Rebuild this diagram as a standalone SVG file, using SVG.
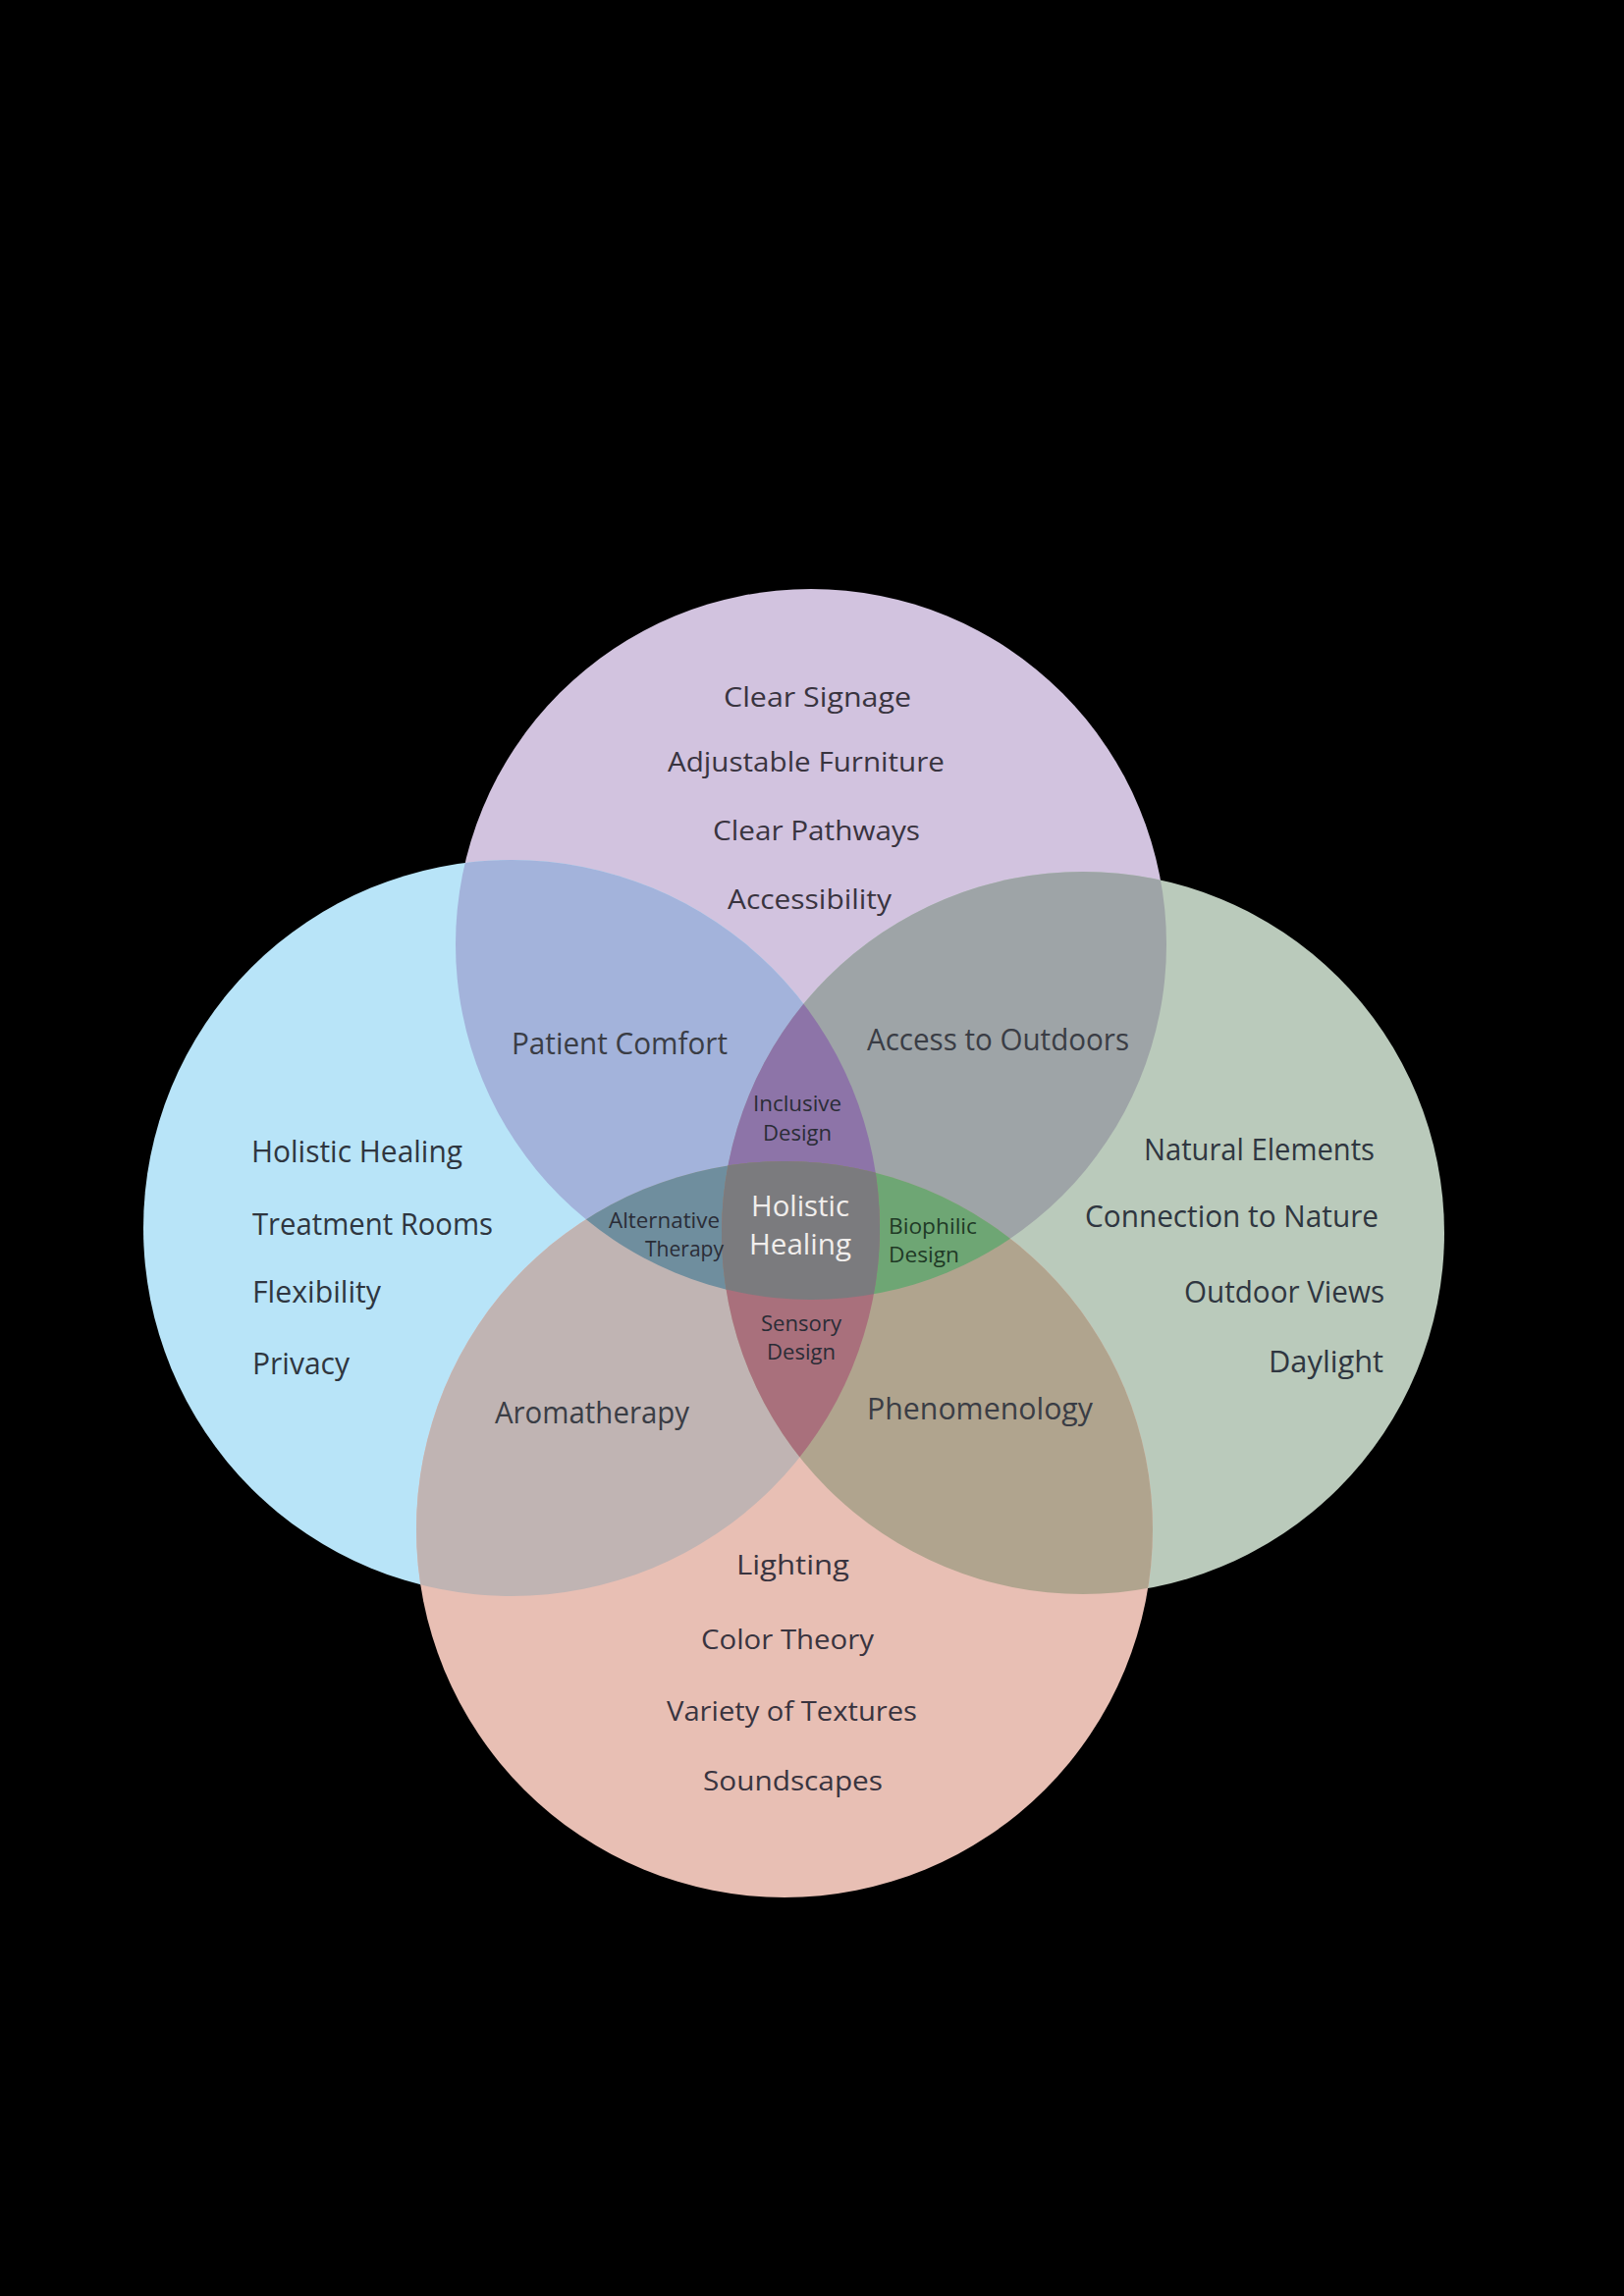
<svg xmlns="http://www.w3.org/2000/svg" xmlns:xlink="http://www.w3.org/1999/xlink" width="1654" height="2339" viewBox="0 0 1654 2339">
<style>
text{font-family:"Open Sans","Noto Sans","Liberation Sans",sans-serif;}
.t{font-size:27px;fill:#39343f;}
.s{font-size:31px;fill:#2f3640;}
.m{font-size:31px;fill:#3a3d45;}
.c{font-size:21px;fill:#2a2c36;}
.w{font-size:29px;fill:#f1eeec;}
</style>
<defs>
<clipPath id="clipT"><circle cx="826" cy="962" r="362"/></clipPath>
<clipPath id="clipL"><circle cx="521" cy="1251" r="375"/></clipPath>
<clipPath id="clipR"><circle cx="1103" cy="1256" r="368"/></clipPath>
<clipPath id="clipB"><circle cx="799" cy="1558" r="375"/></clipPath>
</defs>
<rect x="0" y="0" width="1654" height="2339" fill="#000"/>

<g id="node-top">
<circle cx="826" cy="962" r="362" fill="#d2c3df"/>
</g>
<g id="node-left">
<circle cx="521" cy="1251" r="375" fill="#b8e4f8"/>
</g>
<g id="node-right">
<circle cx="1103" cy="1256" r="368" fill="#bacabb"/>
</g>
<g id="node-bottom">
<circle cx="799" cy="1558" r="375" fill="#e8bfb4"/>
</g>

<g id="node-patient-comfort" clip-path="url(#clipT)">
<circle cx="521" cy="1251" r="375" fill="#a3b3db"/>
</g>
<g id="node-access-outdoors" clip-path="url(#clipT)">
<circle cx="1103" cy="1256" r="368" fill="#9ea4a7"/>
</g>
<g id="node-aromatherapy" clip-path="url(#clipB)">
<circle cx="521" cy="1251" r="375" fill="#c0b4b3"/>
</g>
<g id="node-phenomenology" clip-path="url(#clipB)">
<circle cx="1103" cy="1256" r="368" fill="#b0a48e"/>
</g>

<g id="node-inclusive" clip-path="url(#clipT)">
<g clip-path="url(#clipL)"><circle cx="1103" cy="1256" r="368" fill="#8d74a8"/></g>
</g>
<g id="node-alternative" clip-path="url(#clipT)">
<g clip-path="url(#clipB)"><circle cx="521" cy="1251" r="375" fill="#6f8e9e"/></g>
</g>
<g id="node-biophilic" clip-path="url(#clipT)">
<g clip-path="url(#clipB)"><circle cx="1103" cy="1256" r="368" fill="#6ea674"/></g>
</g>
<g id="node-sensory" clip-path="url(#clipB)">
<g clip-path="url(#clipL)"><circle cx="1103" cy="1256" r="368" fill="#a9707c"/></g>
</g>
<g id="node-center" clip-path="url(#clipT)">
<g clip-path="url(#clipB)"><g clip-path="url(#clipL)"><circle cx="1103" cy="1256" r="368" fill="#7b7b7e"/></g></g>
</g>

<g id="labels-top">
<text class="t" x="737" y="720" textLength="191" lengthAdjust="spacingAndGlyphs">Clear Signage</text>
<text class="t" x="680" y="786" textLength="282" lengthAdjust="spacingAndGlyphs">Adjustable Furniture</text>
<text class="t" x="726" y="856" textLength="211" lengthAdjust="spacingAndGlyphs">Clear Pathways</text>
<text class="t" x="741" y="926" textLength="167" lengthAdjust="spacingAndGlyphs">Accessibility</text>
</g>
<g id="labels-bottom">
<text class="t" x="750" y="1604" textLength="115" lengthAdjust="spacingAndGlyphs">Lighting</text>
<text class="t" x="714" y="1680" textLength="176" lengthAdjust="spacingAndGlyphs">Color Theory</text>
<text class="t" x="679" y="1753" textLength="255" lengthAdjust="spacingAndGlyphs">Variety of Textures</text>
<text class="t" x="716" y="1824" textLength="183" lengthAdjust="spacingAndGlyphs">Soundscapes</text>
</g>
<g id="labels-left">
<text class="s" x="256" y="1184" textLength="215" lengthAdjust="spacingAndGlyphs">Holistic Healing</text>
<text class="s" x="257" y="1258" textLength="245" lengthAdjust="spacingAndGlyphs">Treatment Rooms</text>
<text class="s" x="257" y="1327" textLength="131" lengthAdjust="spacingAndGlyphs">Flexibility</text>
<text class="s" x="257" y="1400" textLength="99" lengthAdjust="spacingAndGlyphs">Privacy</text>
</g>
<g id="labels-right">
<text class="s" x="1165" y="1182" textLength="235" lengthAdjust="spacingAndGlyphs">Natural Elements</text>
<text class="s" x="1105" y="1250" textLength="299" lengthAdjust="spacingAndGlyphs">Connection to Nature</text>
<text class="s" x="1206" y="1327" textLength="204" lengthAdjust="spacingAndGlyphs">Outdoor Views</text>
<text class="s" x="1292" y="1398" textLength="117" lengthAdjust="spacingAndGlyphs">Daylight</text>
</g>
<g id="labels-pairs">
<text class="m" x="521" y="1074" textLength="220" lengthAdjust="spacingAndGlyphs">Patient Comfort</text>
<text class="m" x="883" y="1070" textLength="267" lengthAdjust="spacingAndGlyphs">Access to Outdoors</text>
<text class="m" x="504" y="1450" textLength="198" lengthAdjust="spacingAndGlyphs">Aromatherapy</text>
<text class="m" x="883" y="1446" textLength="230" lengthAdjust="spacingAndGlyphs">Phenomenology</text>
</g>
<g id="labels-center">
<text class="c" x="767" y="1132" textLength="90" lengthAdjust="spacingAndGlyphs">Inclusive</text>
<text class="c" x="777" y="1162" textLength="70" lengthAdjust="spacingAndGlyphs">Design</text>
<text class="c" x="620" y="1251" textLength="113" lengthAdjust="spacingAndGlyphs">Alternative</text>
<text class="c" x="657" y="1280" textLength="80" lengthAdjust="spacingAndGlyphs">Therapy</text>
<text class="c" x="905" y="1257" textLength="90" lengthAdjust="spacingAndGlyphs" style="fill:#1f3a26">Biophilic</text>
<text class="c" x="905" y="1286" textLength="72" lengthAdjust="spacingAndGlyphs" style="fill:#1f3a26">Design</text>
<text class="c" x="775" y="1356" textLength="82" lengthAdjust="spacingAndGlyphs">Sensory</text>
<text class="c" x="781" y="1385" textLength="70" lengthAdjust="spacingAndGlyphs">Design</text>
<text class="w" x="765" y="1239" textLength="100" lengthAdjust="spacingAndGlyphs">Holistic</text>
<text class="w" x="763" y="1278" textLength="104" lengthAdjust="spacingAndGlyphs">Healing</text>
</g>
</svg>
